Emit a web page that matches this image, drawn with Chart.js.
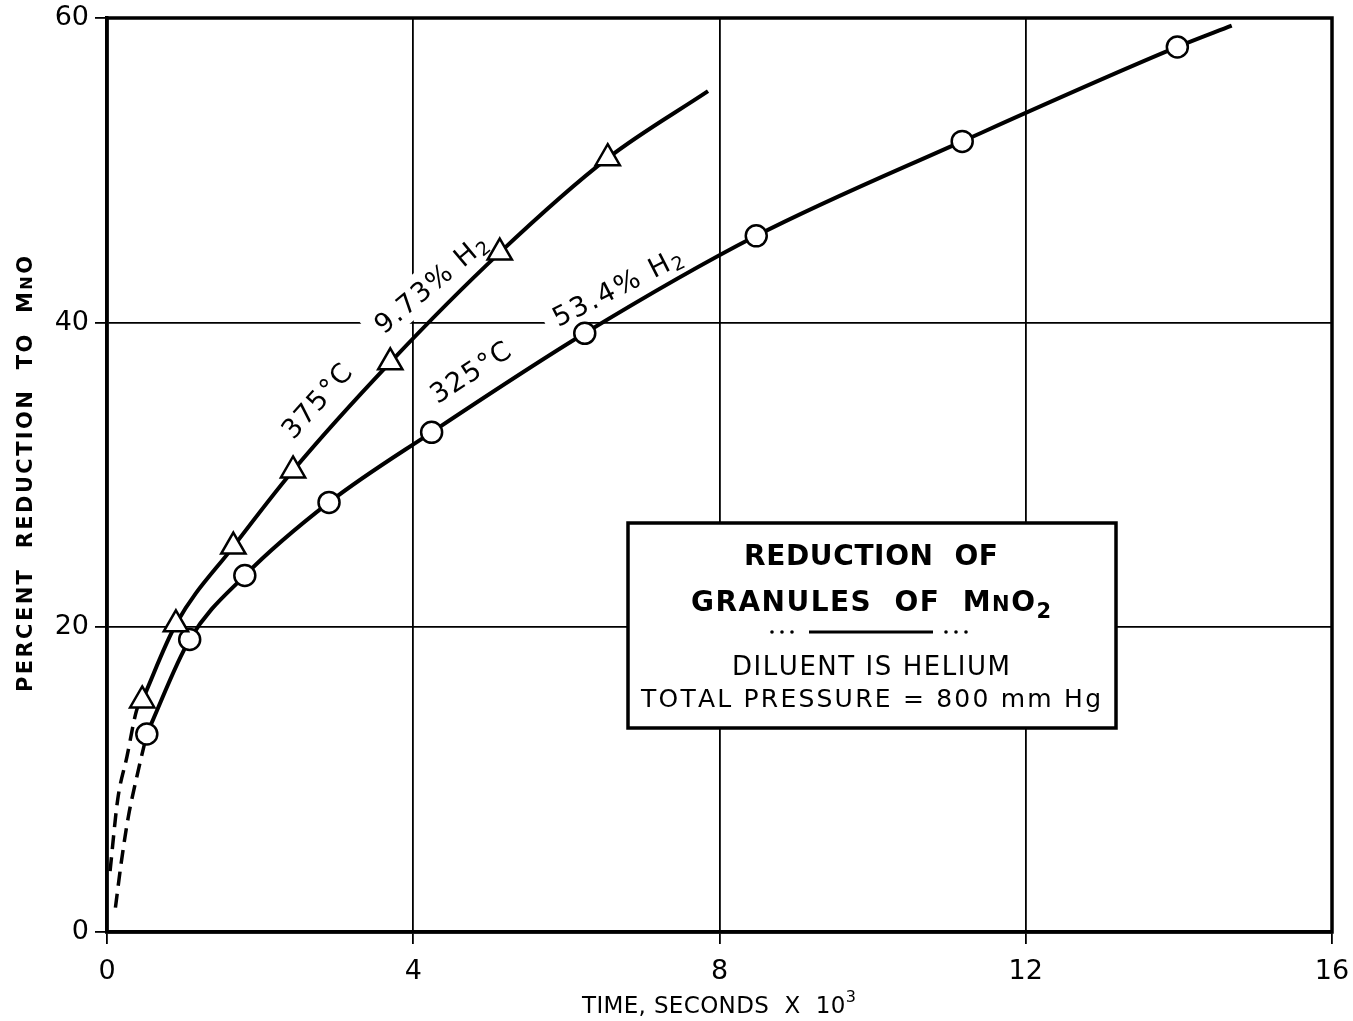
<!DOCTYPE html>
<html>
<head>
<meta charset="utf-8">
<title>Reduction of granules of MnO2</title>
<script src="https://cdn.jsdelivr.net/npm/chart.js@4/dist/chart.umd.min.js"></script>
<style>
  html, body { margin: 0; padding: 0; background: #fff; }
  #wrap { width: 1353px; height: 1021px; position: relative; }
</style>
</head>
<body>
<div id="wrap"><canvas id="c" width="1353" height="1021"></canvas></div>
<script>
// ---- data: time in seconds x 10^3, percent reduction to MnO ----
// 375 °C, 9.73 % H2 (triangles)
const hotTime      = [0.46, 0.90, 1.65, 2.43, 3.70, 5.13, 6.54];
const hotReduction = [15.2, 20.2, 25.3, 30.3, 37.4, 44.6, 50.8];
const hotCurveEnd  = [7.85, 55.2];
const hotDashTime      = [0.04, 0.14, 0.26, 0.39, 0.46];
const hotDashReduction = [4.0, 8.7, 11.5, 14.6, 15.2];

// 325 °C, 53.4 % H2 (circles)
const coolTime      = [0.52, 1.08, 1.80, 2.90, 4.24, 6.24, 8.48, 11.17, 13.98];
const coolReduction = [13.0, 19.2, 23.4, 28.2, 32.8, 39.3, 45.7, 51.9, 58.1];
const coolCurveEnd  = [14.69, 59.5];
const coolDashTime      = [0.11, 0.19, 0.28, 0.39, 0.52];
const coolDashReduction = [1.6, 4.7, 7.6, 10.2, 13.0];

// axis ticks
const xTicks = [0, 4, 8, 12, 16];
const yTicks = [0, 20, 40, 60];

const FONT = "'DejaVu Sans', sans-serif";

function pts(xs, ys) { return xs.map((x, i) => ({ x, y: ys[i] })); }

// draws a row of text runs centred on cx, spreading the glyphs to a given width
function drawRuns(ctx, runs, cx, by, targetW) {
  const glyphs = [];
  for (const r of runs) {
    const font = `${r.weight || 'normal'} ${r.size}px ${FONT}`;
    for (const ch of r.t) glyphs.push({ ch, font, dy: r.dy || 0 });
  }
  let natural = 0;
  for (const g of glyphs) { ctx.font = g.font; g.w = ctx.measureText(g.ch).width; natural += g.w; }
  const total = targetW || natural;
  const gap = glyphs.length > 1 ? (total - natural) / (glyphs.length - 1) : 0;
  let x = cx - total / 2;
  ctx.textAlign = 'left';
  ctx.textBaseline = 'alphabetic';
  for (const g of glyphs) { ctx.font = g.font; ctx.fillText(g.ch, x, by + g.dy); x += g.w + gap; }
  return total;
}

// labels written along the curves (anchored in data units)
const curveLabels = [
  { runs: [{ t: '375°C', size: 27 }], x: 2.73, y: 34.9, angle: -48, width: 90 },
  { runs: [{ t: '9.73% H', size: 27 }, { t: '2', size: 19, dy: 4 }], x: 4.22, y: 42.6, angle: -40, width: 138 },
  { runs: [{ t: '325°C', size: 27 }], x: 4.74, y: 36.8, angle: -33, width: 90 },
  { runs: [{ t: '53.4% H', size: 27 }, { t: '2', size: 19, dy: 4 }], x: 6.66, y: 42.4, angle: -27, width: 142 },
];

const curveLabelPlugin = {
  id: 'curveLabels',
  beforeDatasetsDraw(chart) {
    const { ctx, scales } = chart;
    for (const lab of curveLabels) {
      const px = scales.x.getPixelForValue(lab.x);
      const py = scales.y.getPixelForValue(lab.y);
      ctx.save();
      ctx.translate(px, py);
      ctx.rotate(lab.angle * Math.PI / 180);
      ctx.fillStyle = '#fff';
      ctx.fillRect(-lab.width / 2 - 10, -18, lab.width + 20, 36);
      ctx.fillStyle = '#000';
      drawRuns(ctx, lab.runs, 0, 10, lab.width);
      ctx.restore();
    }
  }
};

// title box and axis titles
const boxRect = { left: 628, top: 523, right: 1116, bottom: 728, textCx: 871 };
const boxLines = [
  { runs: [{ t: 'REDUCTION  OF', size: 28, weight: 'bold' }], base: 565, width: 254 },
  { runs: [{ t: 'GRANULES  OF  M', size: 28, weight: 'bold' }, { t: 'N', size: 21, weight: 'bold' },
           { t: 'O', size: 28, weight: 'bold' }, { t: '2', size: 21, weight: 'bold', dy: 7 }], base: 611, width: 360 },
  { runs: [{ t: 'DILUENT IS HELIUM', size: 26 }], base: 675, width: 278 },
  { runs: [{ t: 'TOTAL PRESSURE = 800 mm Hg', size: 25 }], base: 707, width: 460 },
];

const decorPlugin = {
  id: 'decor',
  afterDatasetsDraw(chart) {
    const { ctx, chartArea } = chart;
    ctx.save();
    // plot frame
    ctx.strokeStyle = '#000';
    ctx.lineWidth = 3.5;
    ctx.strokeRect(chartArea.left, chartArea.top, chartArea.right - chartArea.left, chartArea.bottom - chartArea.top);

    // title box
    const b = boxRect;
    ctx.fillStyle = '#fff';
    ctx.fillRect(b.left, b.top, b.right - b.left, b.bottom - b.top);
    ctx.lineWidth = 3.5;
    ctx.strokeRect(b.left, b.top, b.right - b.left, b.bottom - b.top);
    ctx.fillStyle = '#000';
    for (const line of boxLines) drawRuns(ctx, line.runs, b.textCx, line.base, line.width);
    // separator: dots, rule, dots
    for (const x0 of [772, 946]) {
      for (let k = 0; k < 3; k++) { ctx.beginPath(); ctx.arc(x0 + k * 10, 632, 1.8, 0, Math.PI * 2); ctx.fill(); }
    }
    ctx.lineWidth = 3;
    ctx.beginPath(); ctx.moveTo(809, 632); ctx.lineTo(933, 632); ctx.stroke();

    // y axis title
    ctx.save();
    ctx.translate(24, 474);
    ctx.rotate(-Math.PI / 2);
    drawRuns(ctx, [{ t: 'PERCENT  REDUCTION  TO  M', size: 21, weight: 'bold' }, { t: 'N', size: 16, weight: 'bold' },
                   { t: 'O', size: 21, weight: 'bold' }], 0, 8, 436);
    ctx.restore();

    // x axis title
    drawRuns(ctx, [{ t: 'TIME, SECONDS  X  10', size: 23 }, { t: '3', size: 16, dy: -11 }], 719, 1013, 274);
    ctx.restore();
  }
};

const lineBase = {
  borderColor: '#000',
  borderWidth: 4,
  cubicInterpolationMode: 'monotone',
  fill: false,
  pointBackgroundColor: '#fff',
  pointBorderColor: '#000',
  pointHoverRadius: 0,
};

const hotSolid = pts(hotTime, hotReduction).concat([{ x: hotCurveEnd[0], y: hotCurveEnd[1] }]);
const coolSolid = pts(coolTime, coolReduction).concat([{ x: coolCurveEnd[0], y: coolCurveEnd[1] }]);

// keep the plot area fixed: no extra room reserved for overhanging tick labels
function noOverhang(s) { s.paddingLeft = 0; s.paddingRight = 0; s.paddingTop = 0; s.paddingBottom = 0; }

new Chart(document.getElementById('c'), {
  type: 'line',
  data: {
    datasets: [
      Object.assign({}, lineBase, {
        label: '375 °C, 9.73 % H2',
        data: hotSolid,
        pointStyle: 'triangle',
        pointRadius: c => (c.dataIndex < hotTime.length ? 14 : 0),
        pointBorderWidth: 2.5,
      }),
      Object.assign({}, lineBase, {
        label: '325 °C, 53.4 % H2',
        data: coolSolid,
        pointStyle: 'circle',
        pointRadius: c => (c.dataIndex < coolTime.length ? 10.5 : 0),
        pointBorderWidth: 2.5,
      }),
      Object.assign({}, lineBase, {
        label: '375 °C extrapolated',
        data: pts(hotDashTime, hotDashReduction),
        borderDash: [14, 8],
        borderWidth: 3.5,
        pointRadius: 0,
      }),
      Object.assign({}, lineBase, {
        label: '325 °C extrapolated',
        data: pts(coolDashTime, coolDashReduction),
        borderDash: [14, 8],
        borderWidth: 3.5,
        pointRadius: 0,
      }),
    ]
  },
  options: {
    responsive: false,
    animation: false,
    devicePixelRatio: 1,
    layout: { padding: { top: 18, right: 21, left: 0, bottom: 0 } },
    plugins: { legend: { display: false }, tooltip: { enabled: false } },
    scales: {
      x: {
        type: 'linear',
        min: 0, max: 16,
        afterBuildTicks: s => { s.ticks = xTicks.map(v => ({ value: v })); },
        afterFit: s => { s.height = 89; noOverhang(s); },
        grid: { color: '#000', lineWidth: 1.8, tickLength: 12, tickColor: '#000', tickWidth: 1.8 },
        border: { display: true, color: '#000', width: 3.5 },
        ticks: { color: '#000', font: { family: FONT, size: 27 }, padding: 12, maxRotation: 0 },
      },
      y: {
        type: 'linear',
        min: 0, max: 60,
        afterBuildTicks: s => { s.ticks = yTicks.map(v => ({ value: v })); },
        afterFit: s => { s.width = 107; noOverhang(s); },
        grid: { color: '#000', lineWidth: 1.8, tickLength: 12, tickColor: '#000', tickWidth: 1.8 },
        border: { display: true, color: '#000', width: 3.5 },
        ticks: { color: '#000', font: { family: FONT, size: 27 }, padding: 6 },
      }
    }
  },
  plugins: [curveLabelPlugin, decorPlugin]
});
</script>
</body>
</html>
